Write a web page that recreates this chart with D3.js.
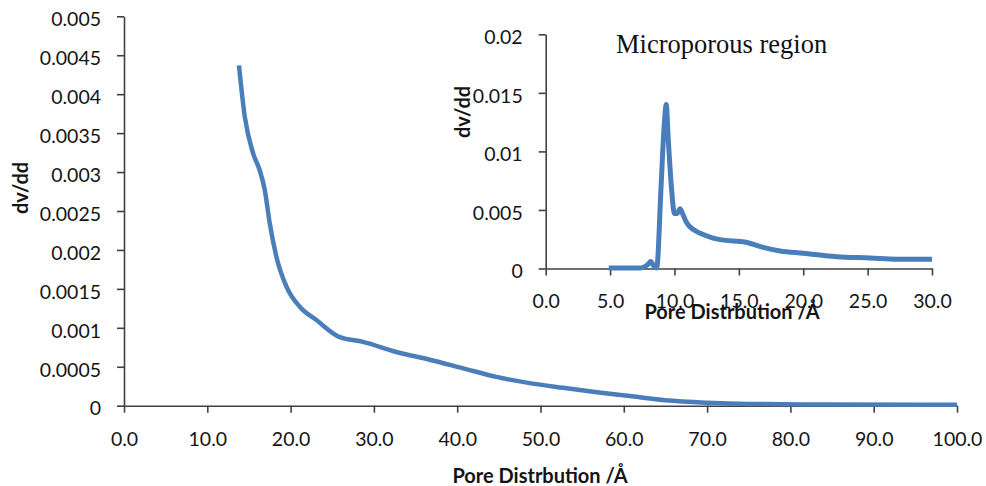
<!DOCTYPE html>
<html>
<head>
<meta charset="utf-8">
<script src="https://cdn.jsdelivr.net/npm/d3@7"></script>
<style>
  html, body { margin: 0; padding: 0; background: #fff; }
  svg { display: block; }
  .tick text { font-family: Lato, "Open Sans", sans-serif; font-size: 19.5px; fill: #141414; }
  .axis-title { font-family: Lato, "Open Sans", sans-serif; font-size: 20px; font-weight: bold; fill: #141414; }
</style>
</head>
<body>
<svg id="chart" width="986" height="486"></svg>
<script>
// Full pore-size distribution (pore width in Å, dV/dd)
const mainPore = [13.8, 14.5, 15.5, 16.3, 16.9, 17.5, 18.3, 19.5, 21.1, 23.1, 25.9, 28.7, 32.7, 36.7, 40.7, 44.7, 48.7, 52.7, 57, 61, 65, 70, 75, 85, 100];
const mainDv = [0.00437, 0.00371, 0.00324, 0.00302, 0.00277, 0.00234, 0.00191, 0.00153, 0.00127, 0.00110, 0.00088, 0.00082, 0.00069, 0.00059, 0.00048, 0.00037, 0.00029, 0.00023, 0.00017, 0.00012, 0.00007, 0.000038, 0.000022, 0.000015, 0.000012];

// Microporous region detail
const microPore = [4.9, 7.4, 7.9, 8.15, 8.4, 8.62, 8.96, 9.2, 9.36, 9.52, 9.78, 10.0, 10.2, 10.43, 10.7, 10.95, 11.5, 12.0, 13.0, 14.0, 15.1, 15.7, 16.9, 18.2, 20.0, 22.6, 25.2, 27.3, 30.0];
const microDv = [0.00005, 0.00005, 0.0003, 0.0006, 0.0002, 0.00005, 0.0070, 0.0122, 0.0140, 0.0110, 0.0067, 0.0047, 0.0047, 0.0051, 0.0045, 0.0039, 0.0033, 0.0030, 0.0026, 0.0024, 0.0023, 0.0022, 0.0018, 0.0015, 0.0013, 0.0010, 0.0009, 0.0008, 0.0008];

// Tick values
const mainXTicks = [0, 10, 20, 30, 40, 50, 60, 70, 80, 90, 100];
const mainYTicks = [0, 0.0005, 0.001, 0.0015, 0.002, 0.0025, 0.003, 0.0035, 0.004, 0.0045, 0.005];
const microXTicks = [0, 5, 10, 15, 20, 25, 30];
const microYTicks = [0, 0.005, 0.01, 0.015, 0.02];

const xTitle = "Pore Distrbution /Å";
const yTitle = "dv/dd";
const insetLabel = "Microporous region";

const lineColor = "#4a7ebb";
const axisColor = "#404040";

const svg = d3.select("#chart");

function yFmt(v) { return v === 0 ? "0" : String(+v.toFixed(4)); }

function drawPanel(opts) {
  const x = d3.scaleLinear().domain(opts.xDomain).range([opts.left, opts.right]);
  const y = d3.scaleLinear().domain(opts.yDomain).range([opts.bottom, opts.top]);
  const g = svg.append("g");

  const xAxis = g.append("g")
    .attr("transform", `translate(0,${opts.bottom})`)
    .call(d3.axisBottom(x).tickValues(opts.xTicks).tickFormat(d3.format(".1f"))
      .tickSizeInner(7).tickSizeOuter(0).tickPadding(opts.xPad));
  const yAxis = g.append("g")
    .attr("transform", `translate(${opts.left},0)`)
    .call(d3.axisLeft(y).tickValues(opts.yTicks).tickFormat(yFmt)
      .tickSizeInner(7).tickSizeOuter(0).tickPadding(opts.yPad));

  [xAxis, yAxis].forEach(a => {
    a.select(".domain").attr("stroke", axisColor).attr("stroke-width", 1.6);
    a.selectAll(".tick line").attr("stroke", axisColor).attr("stroke-width", 1.6);
  });
  yAxis.selectAll(".tick text").attr("dy", "0.68em").attr("y", -4);

  const line = d3.line()
    .x((d, i) => x(opts.xs[i]))
    .y((d, i) => y(opts.ys[i]))
    .curve(d3.curveMonotoneX);

  g.append("path")
    .datum(opts.ys)
    .attr("d", line)
    .attr("fill", "none")
    .attr("stroke", lineColor)
    .attr("stroke-width", opts.lineWidth)
    .attr("stroke-linejoin", "round");

  g.append("text")
    .attr("class", "axis-title")
    .attr("x", opts.xTitleX).attr("y", opts.xTitleY)
    .attr("text-anchor", "middle")
    .text(xTitle);

  g.append("text")
    .attr("class", "axis-title")
    .attr("transform", `translate(${opts.yTitleX},${opts.yTitleY}) rotate(-90)`)
    .attr("text-anchor", "middle")
    .text(yTitle);

  return g;
}

// Main chart
drawPanel({
  left: 124, right: 957, top: 16.3, bottom: 405.7,
  xDomain: [0, 100], yDomain: [0, 0.005],
  xTicks: mainXTicks, yTicks: mainYTicks,
  xs: mainPore, ys: mainDv,
  xPad: 19, yPad: 16,
  lineWidth: 4.5,
  xTitleX: 540, xTitleY: 483,
  yTitleX: 28, yTitleY: 188
});

// Inset: microporous region
const inset = drawPanel({
  left: 545.7, right: 932, top: 34.3, bottom: 268.5,
  xDomain: [0, 30], yDomain: [0, 0.02],
  xTicks: microXTicks, yTicks: microYTicks,
  xs: microPore, ys: microDv,
  xPad: 19, yPad: 16,
  lineWidth: 5,
  xTitleX: 732, xTitleY: 319,
  yTitleX: 470, yTitleY: 112
});

inset.append("text")
  .attr("x", 616).attr("y", 52.7)
  .attr("font-family", "'Liberation Serif', 'Times New Roman', serif")
  .attr("font-size", 26.5)
  .attr("fill", "#111")
  .text(insetLabel);
</script>
</body>
</html>
